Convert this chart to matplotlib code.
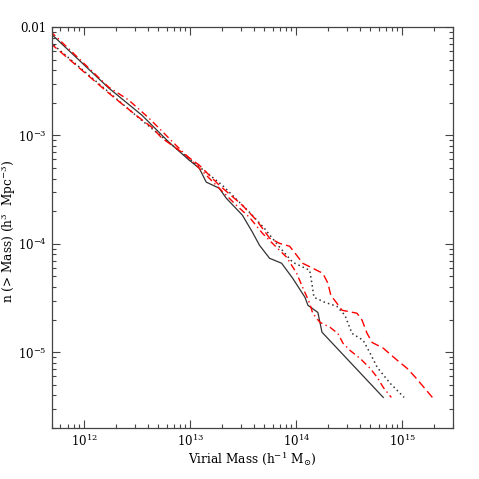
import matplotlib
matplotlib.use("Agg")
import matplotlib.pyplot as plt
from matplotlib.ticker import LogLocator, FixedLocator, FixedFormatter, NullFormatter

plt.rcParams['font.family'] = ['DejaVu Serif']
plt.rcParams['mathtext.fontset'] = 'dejavuserif'

# ------------------ data ------------------
# black solid
m_solid = [4.81e11, 1.71e12, 3.51e12, 6.32e12, 9.79e12, 1.22e13, 1.42e13, 1.88e13, 2.19e13, 3.11e13,
           3.87e13, 4.51e13, 5.61e13, 7.29e13, 9.27e13, 1.21e14, 1.29e14, 1.60e14, 1.75e14, 6.61e14]
n_solid = [8.81e-3, 2.74e-3, 1.54e-3, 8.67e-4, 5.92e-4, 4.99e-4, 3.71e-4, 3.26e-4, 2.64e-4, 1.84e-4,
           1.28e-4, 9.70e-5, 7.36e-5, 6.62e-5, 4.81e-5, 3.21e-5, 2.71e-5, 2.33e-5, 1.53e-5, 3.83e-6]

# black dotted
m_dot = [4.81e11, 1.71e12, 3.29e12, 7.36e12, 2.01e13, 3.62e13, 5.02e13, 6.98e13, 9.27e13, 1.34e14,
         1.40e14, 1.47e14, 1.86e14, 2.42e14, 2.88e14, 3.36e14, 4.27e14, 4.98e14, 5.80e14, 7.69e14, 1.04e15]
n_dot = [7.26e-3, 2.51e-3, 1.45e-3, 7.63e-4, 3.48e-4, 1.96e-4, 1.39e-4, 9.30e-5, 6.76e-5, 5.70e-5,
         4.42e-5, 3.21e-5, 2.89e-5, 2.65e-5, 2.19e-5, 1.49e-5, 1.29e-5, 9.77e-6, 7.25e-6, 5.16e-6, 3.83e-6]

# red dashed
m_dash = [4.81e11, 1.71e12, 3.08e12, 4.36e12, 5.43e12, 7.87e12, 1.22e13, 1.88e13, 3.11e13, 4.23e13,
          5.61e13, 6.98e13, 8.67e13, 1.01e14, 1.15e14, 1.43e14, 1.78e14, 1.99e14, 2.12e14, 2.42e14,
          2.70e14, 3.74e14, 4.18e14, 4.66e14, 5.20e14, 6.61e14, 8.97e14, 1.11e15, 1.33e15, 1.92e15]
n_dash = [7.11e-3, 2.46e-3, 1.54e-3, 1.19e-3, 9.44e-4, 7.31e-4, 5.32e-4, 3.48e-4, 2.27e-4, 1.65e-4,
          1.13e-4, 1.01e-4, 9.50e-5, 7.85e-5, 6.62e-5, 5.96e-5, 5.35e-5, 4.33e-5, 3.35e-5, 2.83e-5,
          2.44e-5, 2.29e-5, 1.97e-5, 1.49e-5, 1.23e-5, 1.09e-5, 8.42e-6, 7.10e-6, 5.86e-6, 3.83e-6]

# red dash-dot
m_dd = [4.81e11, 1.71e12, 2.64e12, 4.08e12, 5.08e12, 7.36e12, 9.16e12, 1.22e13, 1.88e13, 2.73e13,
        3.62e13, 4.81e13, 5.98e13, 8.13e13, 1.01e14, 1.15e14, 1.34e14, 1.43e14, 1.67e14, 2.08e14,
        2.47e14, 2.76e14, 3.21e14, 4.00e14, 4.98e14, 5.80e14, 6.61e14, 7.87e14]
n_dd = [9.18e-3, 2.79e-3, 2.12e-3, 1.45e-3, 1.17e-3, 8.13e-4, 6.58e-4, 4.99e-4, 3.26e-4, 2.27e-4,
        1.76e-4, 1.25e-4, 1.01e-4, 7.52e-5, 5.35e-5, 3.97e-5, 2.83e-5, 2.29e-5, 1.89e-5, 1.70e-5,
        1.49e-5, 1.21e-5, 1.04e-5, 8.77e-6, 7.10e-6, 5.86e-6, 4.74e-6, 3.83e-6]

x_ticks = [1e12, 1e13, 1e14, 1e15]
x_labels = [r'$10^{12}$', r'$10^{13}$', r'$10^{14}$', r'$10^{15}$']
y_ticks = [1e-5, 1e-4, 1e-3, 1e-2]
y_labels = [r'$10^{-5}$', r'$10^{-4}$', r'$10^{-3}$', '0.01']

# ------------------ plot ------------------
fig = plt.figure(figsize=(4.79, 4.79), dpi=100)
ax = fig.add_axes([0.1086, 0.1065, 0.837, 0.837])

ax.plot(m_solid, n_solid, color='#333333', lw=0.9, ls='-')
ax.plot(m_dot, n_dot, color='#333333', lw=1.1, ls=(0, (1, 2)))
ax.plot(m_dash, n_dash, color='red', lw=1.0, ls=(0, (6, 3)))
ax.plot(m_dd, n_dd, color='red', lw=1.0, ls=(0, (5, 2.5, 1, 2.5)))

ax.set_xscale('log')
ax.set_yscale('log')
ax.set_xlim(5e11, 3e15)
ax.set_ylim(2e-6, 1e-2)

ax.xaxis.set_major_locator(FixedLocator(x_ticks))
ax.xaxis.set_major_formatter(FixedFormatter(x_labels))
ax.yaxis.set_major_locator(FixedLocator(y_ticks))
ax.yaxis.set_major_formatter(FixedFormatter(y_labels))
ax.xaxis.set_minor_locator(LogLocator(base=10, subs=range(2, 10), numticks=20))
ax.yaxis.set_minor_locator(LogLocator(base=10, subs=range(2, 10), numticks=20))
ax.xaxis.set_minor_formatter(NullFormatter())
ax.yaxis.set_minor_formatter(NullFormatter())

ax.tick_params(which='both', direction='in', top=True, right=True, color='#444444', width=0.8)
ax.tick_params(which='major', length=6, labelsize=8.5, pad=4)
ax.tick_params(which='minor', length=3)
for s in ax.spines.values():
    s.set_color('#444444')
    s.set_linewidth(0.9)

ax.set_xlabel(r'Virial Mass (h$^{-1}$ M$_{\odot}$)', fontsize=8.7, va='center')
ax.set_ylabel(r'n (> Mass) (h$^3$  Mpc$^{-3}$)', fontsize=8.7, va='center')
ax.xaxis.set_label_coords(0.5, -0.078)
ax.yaxis.set_label_coords(-0.108, 0.49)

fig.savefig('out.png', dpi=100)
